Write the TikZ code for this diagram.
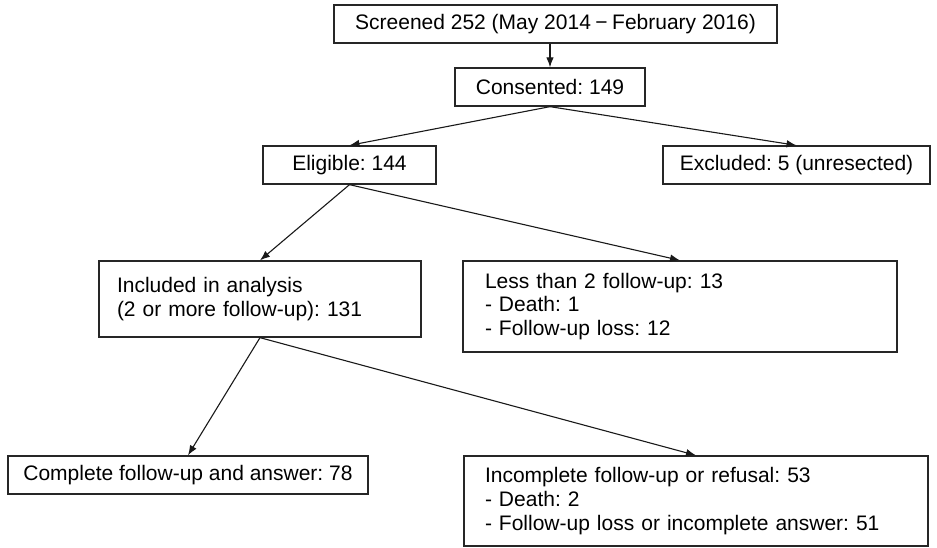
\documentclass[tikz,border=0pt]{standalone}
\usepackage{fontspec}
\setmainfont{Liberation Sans}
\usetikzlibrary{arrows.meta}
\tikzset{>=Latex}
\frenchspacing
\tikzstyle{box} = [draw=black!85, line width=1.3pt, inner sep=0pt, minimum height=38pt, align=center]
\tikzstyle{listbox} = [%
					draw=black!85,
					line width=1.3pt,
					inner ysep=0pt,
					align=left
					]
\tikzstyle{flow} = [line width=1.1pt, color=black!90, -{Latex[length=10pt,width=7.5pt]}]

\begin{document}
\begin{tikzpicture}[x=1pt,y=-1pt,font=\fontsize{21}{23.7}\selectfont]
    \useasboundingbox (0,0) rectangle (937,547);

    % Screening and consent
    \node[box, minimum width=443pt] (scr) at (555.5,24) {Screened 252 (May 2014\hspace{4.5pt}−\hspace{4.5pt}February 2016)};
    \node[box, minimum width=190pt] (con) at (550,87)   {Consented: 149};

    % Eligibility
    \node[box, minimum width=173pt] (eli) at (349.5,165) {Eligible: 144};
    \node[box, minimum width=267pt] (exc) at (796.5,165) {Excluded: 5 (unresected)};

    % Follow-up
    \node[listbox, inner xsep=18pt, text width=286pt, minimum height=76pt] (inc)  at (260,299)
        {Included in analysis\\(2 or more follow-up): 131};
    \node[listbox, inner xsep=22pt, text width=390pt, minimum height=91pt] (less) at (680,306.5)
        {Less than 2 follow-up: 13\\- Death: 1\\- Follow-up loss: 12};

    % Outcome
    \node[box, minimum width=360pt] (comp) at (188,475) {Complete follow-up and answer: 78};
    \node[listbox, inner xsep=21pt, text width=422pt, minimum height=90pt] (incomp) at (696,501)
        {Incomplete follow-up or refusal: 53\\- Death: 2\\- Follow-up loss or incomplete answer: 51};

    % Connectors
    \draw[flow] (con.north |- scr.south) -- (con.north);
    \draw[flow] (con.south) -- (eli.north);
    \draw[flow] (con.south) -- (exc.north);
    \draw[flow] (eli.south) -- (inc.north);
    \draw[flow] (eli.south) -- (less.north);
    \draw[flow] (inc.south) -- (comp.north);
    \draw[flow] (inc.south) -- (incomp.north);
\end{tikzpicture}
\end{document}
